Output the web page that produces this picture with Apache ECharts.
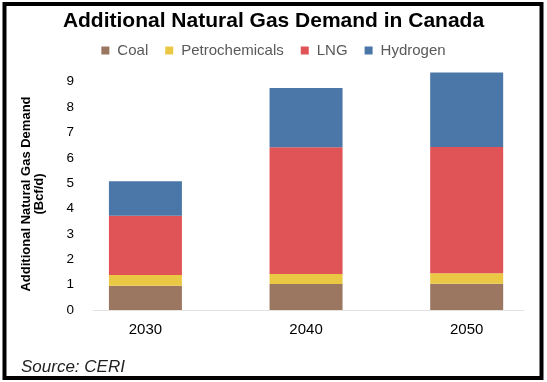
<!DOCTYPE html>
<html><head><meta charset="utf-8">
<script src="https://cdn.jsdelivr.net/npm/echarts@6/dist/echarts.min.js"></script>
<style>html,body{margin:0;padding:0;background:#fff}#c{width:547px;height:382px}</style>
</head><body><div id="c"></div>
<script>
const categories = ['2030', '2040', '2050'];
const coal = [0.96, 1.02, 1.03];
const petrochemicals = [0.42, 0.40, 0.42];
const lng = [2.34, 5.00, 4.98];
const hydrogen = [1.36, 2.33, 2.93];
const yTicks = [0, 1, 2, 3, 4, 5, 6, 7, 8, 9];
const seriesNames = ['Coal', 'Petrochemicals', 'LNG', 'Hydrogen'];
const colors = ['#9b7660', '#ebc844', '#e05356', '#4b77a8'];

const FONT = '"Liberation Sans", Arial, Helvetica, sans-serif';
const chart = echarts.init(document.getElementById('c'), null, { renderer: 'canvas' });
const values = [coal, petrochemicals, lng, hydrogen];

const option = {
  animation: false,
  textStyle: { fontFamily: FONT },
  title: {
    text: 'Additional Natural Gas Demand in Canada',
    left: 'center', top: 6,
    textStyle: { fontSize: 21, fontWeight: 'bold', color: '#000', fontFamily: FONT }
  },
  legend: {
    data: seriesNames, top: 38, left: 'center',
    itemWidth: 8, itemHeight: 8, itemGap: 17, icon: 'rect',
    textStyle: { fontSize: 15, color: '#595959', fontFamily: FONT, padding: [0, 0, 0, 3] }
  },
  grid: [
    { left: 65.1, width: 489.6, top: 69, bottom: 72 },
    { left: 93, right: 23, top: 69, bottom: 72 }
  ],
  xAxis: [
    { gridIndex: 0, type: 'category', data: categories,
      axisLine: { show: false }, axisTick: { show: false },
      axisLabel: { fontSize: 15, color: '#000', margin: 12, fontFamily: FONT } },
    { gridIndex: 1, type: 'category', data: categories,
      axisLine: { lineStyle: { color: '#e3e3e3', width: 1 } },
      axisTick: { show: false }, axisLabel: { show: false } }
  ],
  yAxis: [
    { gridIndex: 0, type: 'value', min: 0, max: 9.5, show: false },
    { gridIndex: 1, type: 'value', min: 0, max: 9.5,
      axisLabel: { customValues: yTicks, fontSize: 13.5, color: '#000', margin: 19, fontFamily: FONT },
      splitLine: { show: false }, axisLine: { show: false }, axisTick: { show: false },
      name: 'Additional Natural Gas Demand\n(Bcf/d)',
      nameLocation: 'middle', nameGap: 47, nameRotate: 90,
      nameTextStyle: { fontSize: 13, fontWeight: 'bold', color: '#000', lineHeight: 13, fontFamily: FONT, padding: [0, 9, 0, 0] } }
  ],
  series: seriesNames.map((name, i) => ({
    name: name, type: 'bar', stack: 'total',
    xAxisIndex: 0, yAxisIndex: 0,
    barWidth: 73,
    itemStyle: { color: colors[i] },
    data: values[i]
  })),
  graphic: [
    { type: 'rect', silent: true, z: 100,
      shape: { x: 4.5, y: 4, width: 537, height: 374 },
      style: { fill: 'none', stroke: '#000', lineWidth: 4 } },
    { type: 'text', left: 21, top: 359,
      style: { text: 'Source: CERI', fontSize: 17, fontStyle: 'italic', fill: '#222', fontFamily: FONT } }
  ]
};
chart.setOption(option);
</script>
</body></html>
